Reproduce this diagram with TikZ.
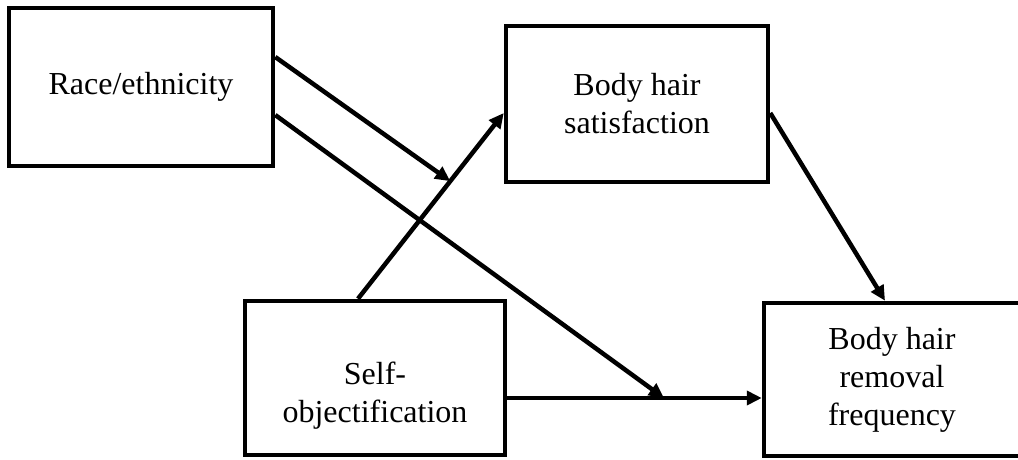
\documentclass[tikz,border=0pt]{standalone}
\usepackage{fontspec}
\setmainfont{Liberation Serif}
\usepackage{tikz}
\usetikzlibrary{arrows.meta, positioning}
\tikzset{
  vartext/.style = {align=center, inner sep=0pt, text centered,
    font=\fontsize{32}{38}\selectfont},
  var/.style = {vartext, rectangle, black, draw=black,
    line width=4.5pt}
}

\begin{document}
\begin{tikzpicture}[x=1pt, y=-1pt, ->, >={Triangle[length=15pt, width=14pt]},
  line width=4.5pt]
\useasboundingbox (0,0) rectangle (1018,460);
% variables
\node [var, minimum width=264pt, minimum height=158pt] (race) at (141,87) {Race/ethnicity};
\node [var, minimum width=262pt, minimum height=156pt] (bhs) at (637,104) {Body hair\\satisfaction};
\node [var, minimum width=260pt, minimum height=154pt] (self) at (375,378) {};
\node [vartext] (selftext) at ([yshift=-18pt]self.center) {Self-\\objectification};
\node [var, minimum width=256pt, minimum height=153pt] (bhrf) at (892,379.5) {Body hair\\removal\\frequency};
% paths
\draw ([xshift=-17pt]self.north) -- coordinate[pos=0.633] (m1) ([yshift=-9pt]bhs.west);
\draw ([yshift=-20pt]self.east) -- coordinate[pos=0.616] (m2) ([yshift=-20pt]self.east -| bhrf.west);
\draw ([yshift=-9pt]bhs.east) -- ([xshift=-7pt]bhrf.north);
% moderation
\draw ([yshift=30pt]race.east) -- (m1);
\draw ([yshift=-28pt]race.east) -- (m2);
\end{tikzpicture}
\end{document}
